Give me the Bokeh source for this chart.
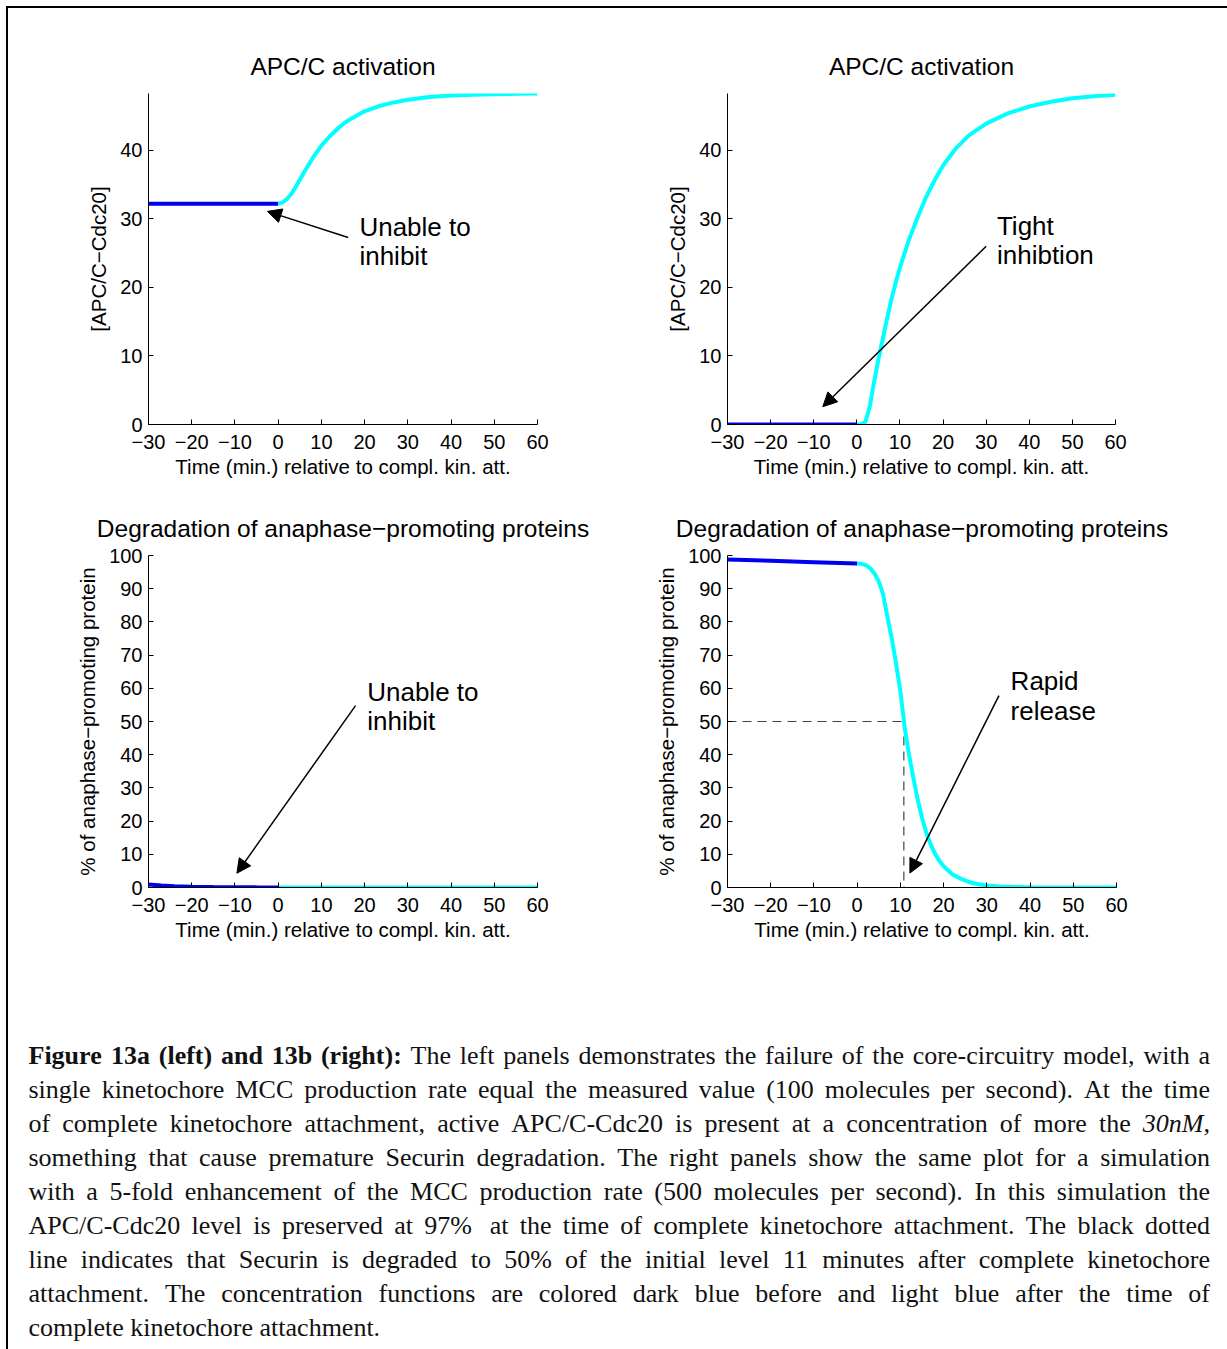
import re
from bokeh.plotting import figure
from bokeh.models import Range1d, FixedTicker, Arrow, NormalHead, Spacer
from bokeh.layouts import column, row
from bokeh.embed import file_html
from bokeh.resources import INLINE
from bokeh.core.properties import value

# ---------------- data ----------------
x_ticks = [-30, -20, -10, 0, 10, 20, 30, 40, 50, 60]
x_tick_labels = {-30: "\u221230", -20: "\u221220", -10: "\u221210"}
apc_ticks = [0, 10, 20, 30, 40]
deg_ticks = [0, 10, 20, 30, 40, 50, 60, 70, 80, 90, 100]
apc_ymax = 48.3
deg_ymax = 100

# 13a APC/C activation
t_a_pre = [-30, -20, -10, 0]
apc_a_pre = [32.2, 32.2, 32.2, 32.2]
t_a_post = [0, 1, 2, 3, 4, 5, 6, 8, 10, 12, 14, 16, 18, 20, 23, 26, 30, 35, 40, 45, 50, 55, 60]
apc_a_post = [32.2, 32.4, 32.9, 33.6, 34.6, 35.7, 36.8, 38.9, 40.7, 42.1, 43.3, 44.3, 45.0,
              45.7, 46.4, 46.9, 47.4, 47.8, 48.0, 48.1, 48.2, 48.25, 48.3]

# 13b APC/C activation
t_b_pre = [-30, -20, -10, 0]
apc_b_pre = [0, 0, 0, 0]
t_b_post = [0, 1, 2, 3, 4, 5, 6, 7, 8, 9, 10, 12, 14, 16, 18, 20, 23, 26, 30, 35, 40, 45, 50, 55, 60]
apc_b_post = [0, 0, 0.4, 2.6, 6.2, 9.5, 12.4, 15.4, 18.2, 20.7, 22.9, 26.8, 30.1, 33.1, 35.6,
              37.8, 40.3, 42.2, 43.9, 45.4, 46.4, 47.1, 47.6, 47.9, 48.1]

# 13a degradation
t_c_pre = [-30, -27, -24, -20, -15, -10, -5, 0]
deg_a_pre = [0.9, 0.6, 0.4, 0.25, 0.15, 0.1, 0.05, 0.03]
t_c_post = [0, 10, 20, 30, 40, 50, 60]
deg_a_post = [0.03, 0.01, 0, 0, 0, 0, 0]

# 13b degradation
t_d_pre = [-30, -20, -10, 0]
deg_b_pre = [98.8, 98.4, 98.0, 97.6]
t_d_post = [0, 1, 2, 3, 4, 5, 6, 7, 8, 9, 10, 11, 12, 13, 14, 15, 16, 17, 18, 19, 20,
            22, 24, 26, 28, 30, 33, 36, 40, 45, 50, 60]
deg_b_post = [97.6, 97.5, 97.1, 96.2, 94.6, 92.2, 88.3, 81.5, 75.0, 67.5, 59.0, 48.2, 40.0,
              33.0, 26.5, 21.0, 16.5, 13.0, 10.2, 8.1, 6.4, 4.0, 2.6, 1.6, 1.0, 0.6, 0.3,
              0.15, 0.07, 0.03, 0.01, 0]
half_level = 50
half_time = 10.8

titles = ["APC/C activation", "APC/C activation",
          "Degradation of anaphase\u2212promoting proteins",
          "Degradation of anaphase\u2212promoting proteins"]
xlabel = "Time (min.) relative to compl. kin. att."
ylabels = ["[APC/C\u2212Cdc20]", "[APC/C\u2212Cdc20]",
           "% of anaphase\u2212promoting protein", "% of anaphase\u2212promoting protein"]

notes = [["Unable to", "inhibit"], ["Tight", "inhibtion"],
         ["Unable to", "inhibit"], ["Rapid", "release"]]
# (x of left edge, y of line-1 centre, y of line-2 centre) in data units
note_pos = [(18.8, 28.8, 24.6), (32.5, 28.9, 24.7), (20.6, 59.0, 50.3), (35.5, 62.2, 53.1)]
arrows = [(16.2, 27.3, -2.5, 31.1), (30.0, 26.0, -7.9, 2.6),
          (17.9, 54.8, -9.55, 4.3), (32.8, 57.8, 12.2, 4.35)]

caption_lines = [
    [("Figure 13a (left) and 13b (right):", "bold"),
     ("The left panels demonstrates the failure of the core-circuitry model, with a", "normal")],
    [("single kinetochore MCC production rate equal the measured value (100 molecules per second). At the time", "normal")],
    [("of complete kinetochore attachment, active APC/C-Cdc20 is present at a concentration of more the", "normal"),
     ("30nM,", "italic")],
    [("something that cause premature Securin degradation. The right panels show the same plot for a simulation", "normal")],
    [("with a 5-fold enhancement of the MCC production rate (500 molecules per second). In this simulation the", "normal")],
    [("APC/C-Cdc20 level is preserved at 97%  at the time of complete kinetochore attachment. The black dotted", "normal")],
    [("line indicates that Securin is degraded to 50% of the initial level 11 minutes after complete kinetochore", "normal")],
    [("attachment. The concentration functions are colored dark blue before and light blue after the time of", "normal")],
    [("complete kinetochore attachment.", "normal")],
]

# ---------------- style ----------------
SANS = "Liberation Sans"
SERIF = "Liberation Serif"
DARK = "#0000f0"
LIGHT = "#00ffff"
TICK_FS = "20px"
LABEL_FS = "20.5px"
TITLE_FS = "24.5px"
NOTE_FS = "26px"


def panel(idx, width, height, left, right, top, bottom, ymax, yticks):
    p = figure(width=width, height=height, x_range=Range1d(-30, 60), y_range=Range1d(0, ymax),
               output_backend="svg", toolbar_location=None,
               min_border_left=left, min_border_right=right,
               min_border_top=top, min_border_bottom=bottom, title=titles[idx])
    p.title.text_font = SANS
    p.title.text_font_size = TITLE_FS
    p.title.text_font_style = "normal"
    p.title.text_color = "black"
    p.title.align = "center"
    p.title.standoff = 28
    p.outline_line_color = None
    p.xgrid.visible = False
    p.ygrid.visible = False
    p.background_fill_color = "white"
    p.border_fill_color = "white"
    for ax in (p.xaxis[0], p.yaxis[0]):
        ax.axis_line_color = "black"
        ax.axis_line_width = 1
        ax.major_tick_line_color = "black"
        ax.major_tick_in = 5
        ax.major_tick_out = 0
        ax.minor_tick_line_color = None
        ax.major_label_text_font = SANS
        ax.major_label_text_font_size = TICK_FS
        ax.major_label_text_color = "black"
        ax.axis_label_text_font = SANS
        ax.axis_label_text_font_size = LABEL_FS
        ax.axis_label_text_font_style = "normal"
        ax.axis_label_text_color = "black"
    p.xaxis[0].ticker = FixedTicker(ticks=x_ticks)
    p.xaxis[0].major_label_overrides = x_tick_labels
    p.xaxis[0].major_label_standoff = 10
    p.xaxis[0].axis_label = xlabel
    p.xaxis[0].axis_label_standoff = 3
    p.yaxis[0].ticker = FixedTicker(ticks=yticks)
    p.yaxis[0].major_label_standoff = 6
    p.yaxis[0].axis_label = ylabels[idx]
    p.yaxis[0].axis_label_standoff = 7
    return p


def annotate(p, idx):
    xs, ys, xe, ye = arrows[idx]
    p.add_layout(Arrow(end=NormalHead(size=14, fill_color="black", line_color="black", line_width=1),
                       x_start=xs, y_start=ys, x_end=xe, y_end=ye,
                       line_color="black", line_width=1.5))
    tx, y1, y2 = note_pos[idx]
    p.text(x=[tx, tx], y=[y1, y2], text=notes[idx], text_font=value(SANS),
           text_font_size=NOTE_FS, text_baseline="middle", text_align="left",
           text_color="black")


p1 = panel(0, 592, 482, 140, 63, 84, 66, apc_ymax, apc_ticks)
p1.line(t_a_pre, apc_a_pre, line_color=DARK, line_width=4)
p1.line(t_a_post, apc_a_post, line_color=LIGHT, line_width=4)
annotate(p1, 0)

p2 = panel(1, 627, 482, 127, 112, 85, 65, apc_ymax, apc_ticks)
p2.line(t_b_pre, apc_b_pre, line_color=DARK, line_width=4)
p2.line(t_b_post, apc_b_post, line_color=LIGHT, line_width=4)
annotate(p2, 1)

p3 = panel(2, 592, 470, 140, 63, 65, 73, deg_ymax, deg_ticks)
p3.line(t_c_pre, deg_a_pre, line_color=DARK, line_width=4)
p3.line(t_c_post, deg_a_post, line_color=LIGHT, line_width=4)
annotate(p3, 2)

p4 = panel(3, 627, 470, 127, 111, 65, 73, deg_ymax, deg_ticks)
p4.line([-30, half_time], [half_level, half_level], line_color="#444444", line_width=1.2, line_dash="9 6")
p4.line([half_time, half_time], [half_level, 0], line_color="#444444", line_width=1.2, line_dash="9 6")
p4.line(t_d_pre, deg_b_pre, line_color=DARK, line_width=4)
p4.line(t_d_post, deg_b_post, line_color=LIGHT, line_width=4)
annotate(p4, 3)

# ---------------- caption (justified, word by word) ----------------
REG = {' ': .25, '.': .25, ',': .25, '(': .333, ')': .333, '-': .333, ':': .278, '%': .833, '/': .278,
       'a': .444, 'b': .5, 'c': .444, 'd': .5, 'e': .444, 'f': .333, 'g': .5, 'h': .5, 'i': .278,
       'j': .278, 'k': .5, 'l': .278, 'm': .778, 'n': .5, 'o': .5, 'p': .5, 'q': .5, 'r': .333,
       's': .389, 't': .278, 'u': .5, 'v': .5, 'w': .722, 'x': .5, 'y': .5, 'z': .444,
       'A': .722, 'B': .667, 'C': .667, 'D': .722, 'E': .611, 'F': .556, 'G': .722, 'H': .722,
       'I': .333, 'J': .389, 'K': .722, 'L': .611, 'M': .889, 'N': .722, 'O': .722, 'P': .556,
       'Q': .722, 'R': .667, 'S': .556, 'T': .611, 'U': .722, 'V': .722, 'W': .944, 'X': .722,
       'Y': .722, 'Z': .611}
BOLD = {'F': .611, 'i': .278, 'g': .5, 'u': .556, 'r': .444, 'e': .444, 'a': .5, '(': .333,
        'l': .278, 'f': .333, 't': .333, ')': .333, 'n': .556, 'd': .556, 'b': .556, 'h': .556,
        ':': .333}
ITAL = {'n': .5, 'M': .833, ',': .25}
TABLES = {"normal": REG, "bold": BOLD, "italic": ITAL}


def wlen(word, style):
    tab = TABLES[style]
    return sum(tab.get(c, REG.get(c, 0.5)) for c in word)


def tokens(segments):
    words, gaps, pending = [], [], 0
    for si, (txt, st) in enumerate(segments):
        if si > 0:
            pending = max(pending, 1)
        for m in re.finditer(r"\S+|\s+", txt):
            s = m.group()
            if s.isspace():
                pending += len(s)
            else:
                if words:
                    gaps.append(pending)
                words.append((s, st))
                pending = 0
    return words, gaps


CAP_W, CAP_H = 1219, 389
X0, X1 = 20, 1201.5
MID0, LEAD = 95, 34
avail = X1 - X0
naturals = []
for i, seg in enumerate(caption_lines[:-1]):
    w, g = tokens(seg)
    naturals.append(sum(wlen(a, b) for a, b in w) + 0.25 * sum(g))
fs = min(26.0, min(avail / n for n in naturals) - 0.05)

cap = figure(width=CAP_W, height=CAP_H, x_range=Range1d(0, CAP_W), y_range=Range1d(CAP_H, 0),
             output_backend="svg", toolbar_location=None, min_border=0,
             x_axis_location=None, y_axis_location=None)
cap.outline_line_color = None
cap.xgrid.visible = False
cap.ygrid.visible = False

groups = {"normal": ([], [], []), "bold": ([], [], []), "italic": ([], [], [])}
for i, seg in enumerate(caption_lines):
    words, gaps = tokens(seg)
    widths = [wlen(a, b) * fs for a, b in words]
    natural = sum(widths) + 0.25 * fs * sum(gaps)
    justify = i < len(caption_lines) - 1
    extra = (avail - natural) / len(gaps) if (justify and gaps) else 0
    x = X0
    y = MID0 + LEAD * i
    for k, (wd, st) in enumerate(words):
        if k > 0:
            x += 0.25 * fs * gaps[k - 1] + extra
        gx, gy, gt = groups[st]
        gx.append(x)
        gy.append(y)
        gt.append(wd)
        x += widths[k]

for st, (gx, gy, gt) in groups.items():
    if gt:
        cap.text(x=gx, y=gy, text=gt, text_font=value(SERIF), text_font_size=f"{fs:.2f}px",
                 text_font_style=st, text_baseline="middle", text_align="left",
                 text_color="#111111")

# ---------------- page layout with frame ----------------
content = column(row(p1, p2), row(p3, p4), cap)
top_bar = Spacer(width=1219, height=2, styles={"background-color": "black"})
left_bar = Spacer(width=2, height=1343, styles={"background-color": "black"})
inner = column(top_bar, content)
page = column(Spacer(width=1227, height=6),
              row(Spacer(width=6, height=1343), left_bar, inner))

open("out.html", "w").write(file_html(page, INLINE))
